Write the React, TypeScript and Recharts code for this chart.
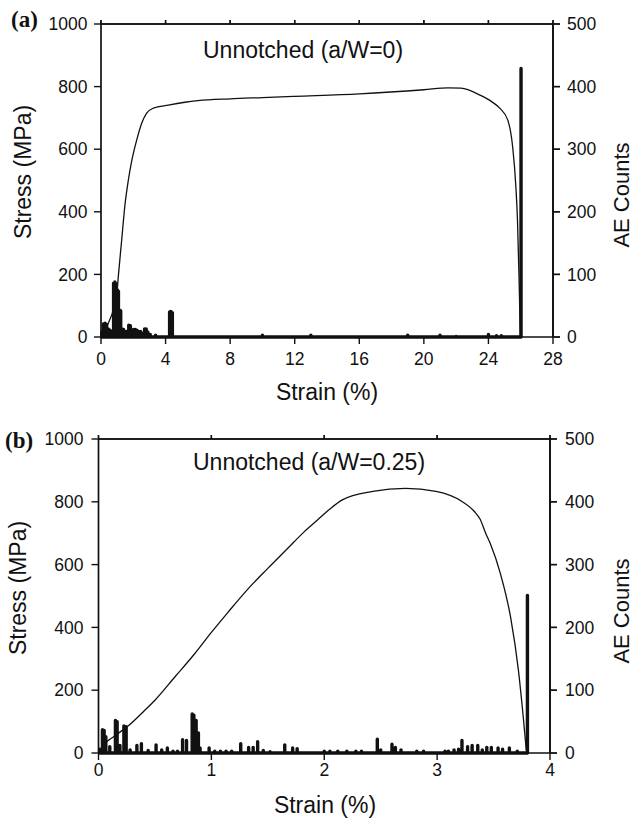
import React from 'react';
import { ComposedChart, Line, XAxis, YAxis, ReferenceLine } from 'recharts';

// ---------- shared ticks ----------
const stressTicks = [0, 200, 400, 600, 800, 1000];
const countTicks = [0, 100, 200, 300, 400, 500];

// ---------- panel (a): Unnotched (a/W=0) ----------
const strainTicksA = [0, 4, 8, 12, 16, 20, 24, 28];
const curveStrainA = [0, 0.15, 0.45, 0.76, 0.97, 1.07, 1.28, 1.49, 1.69, 1.9, 2.21, 2.52, 2.83, 3.24, 4.17, 5.2, 6, 8, 10, 12, 16, 20, 21.5, 22.3, 23.47, 24.2, 24.7, 25.2, 25.5, 25.7, 25.8, 25.9, 25.98];
const curveStressA = [0, 12, 44, 85, 130, 192, 309, 425, 500, 562, 629, 683, 715, 731, 741, 750, 755, 761, 765, 769, 777, 790, 796, 795, 773, 752, 731, 693, 608, 480, 373, 181, 0];
const aeStrainA = [0.05, 0.15, 0.25, 0.35, 0.45, 0.55, 0.65, 0.78, 0.86, 0.94, 1.02, 1.08, 1.16, 1.22, 1.3, 1.4, 1.5, 1.6, 1.72, 1.82, 1.92, 2.02, 2.12, 2.22, 2.32, 2.45, 2.55, 2.7, 2.8, 2.9, 3.05, 3.38, 4.25, 4.33, 4.42, 10.0, 13.0, 19.0, 21.0, 22.0, 24.0, 24.5, 24.8, 26.02];
const aeCountA = [8, 21, 22, 20, 13, 11, 9, 86, 88, 85, 75, 73, 43, 42, 13, 12, 9, 9, 19, 18, 11, 12, 12, 11, 9, 9, 6, 13, 13, 8, 4, 3, 40, 41, 39, 3, 3, 3, 3, 1, 4, 2, 2, 429];

// ---------- panel (b): Unnotched (a/W=0.25) ----------
const strainTicksB = [0, 1, 2, 3, 4];
const curveStrainB = [0, 0.03, 0.15, 0.27, 0.41, 0.5, 0.676, 0.852, 1.0, 1.147, 1.323, 1.5, 1.677, 1.824, 1.94, 2.05, 2.16, 2.43, 2.72, 2.99, 3.22, 3.33, 3.38, 3.43, 3.47, 3.56, 3.65, 3.72, 3.76, 3.79];
const curveStressB = [0, 19, 56, 88, 136, 168, 242, 316, 384, 448, 522, 588, 652, 705, 742, 777, 806, 833, 843, 833, 801, 769, 745, 700, 668, 572, 434, 264, 126, 9];
const aeStrainB = [0.01, 0.035, 0.05, 0.065, 0.1, 0.15, 0.165, 0.19, 0.225, 0.245, 0.28, 0.34, 0.38, 0.44, 0.51, 0.56, 0.61, 0.66, 0.7, 0.745, 0.78, 0.83, 0.845, 0.865, 0.885, 0.9, 0.98, 1.03, 1.08, 1.13, 1.18, 1.26, 1.33, 1.37, 1.41, 1.46, 1.52, 1.65, 1.72, 1.76, 2.0, 2.05, 2.12, 2.2, 2.28, 2.33, 2.47, 2.5, 2.6, 2.63, 2.68, 2.82, 2.88, 3.07, 3.1, 3.15, 3.19, 3.22, 3.27, 3.31, 3.36, 3.4, 3.44, 3.48, 3.54, 3.58, 3.64, 3.71, 3.8];
const aeCountB = [6, 37, 36, 26, 10, 52, 50, 12, 43, 42, 5, 12, 15, 4, 13, 5, 8, 3, 3, 21, 20, 62, 60, 52, 32, 8, 8, 3, 3, 3, 3, 15, 9, 9, 18, 4, 2, 13, 8, 7, 3, 3, 3, 3, 3, 3, 22, 5, 14, 9, 5, 3, 3, 3, 3, 5, 6, 20, 10, 12, 12, 5, 9, 9, 8, 6, 8, 3, 251];

const toCurve = (xs: number[], ys: number[]) => xs.map((x, i) => ({ x, y: ys[i] }));
const toSpikes = (xs: number[], cs: number[]) =>
  xs.flatMap((x, i) => [{ x, y: 0 }, { x, y: cs[i] }, { x, y: 0 }]);

const FONT = '"Liberation Sans", Arial, Helvetica, sans-serif';
const INK = '#111';
const TICK_FS = 17.5;
const tickStyle = { fill: INK, fontSize: TICK_FS, fontFamily: FONT };
const axisLine = { stroke: INK, strokeWidth: 1.7 };
const tickLine = { stroke: INK, strokeWidth: 1.4 };
const TICK_SIZE = 7;
const TOP_TICK = 4;

// right-axis tick: draws its own tick mark and label from the position Recharts gives
const makeRightTick = (margin: number) => (props: any) => {
  const { x, y, payload } = props;
  const x0 = x - margin - TICK_SIZE;
  return (
    <g>
      <line x1={x0} x2={x0 + TICK_SIZE} y1={y} y2={y} stroke={INK} strokeWidth={1.4} />
      <text x={x} y={y} dy="0.355em" textAnchor="start" fill={INK} fontSize={TICK_FS} fontFamily={FONT}>
        {payload.value}
      </text>
    </g>
  );
};

// top-axis tick: short outward mark only
const topTick = (props: any) => {
  const { x, y } = props;
  return <line x1={x} x2={x} y1={y} y2={y + TOP_TICK} stroke={INK} strokeWidth={1.4} />;
};

type PanelProps = {
  strainTicks: number[];
  maxStrain: number;
  curve: { x: number; y: number }[];
  spikes: { x: number; y: number }[];
  marginTop: number;
  xAxisHeight: number;
  leftWidth: number;
  rightWidth: number;
  xTickMargin: number;
  leftTickMargin: number;
  rightTickMargin: number;
};

function Panel(p: PanelProps) {
  return (
    <ComposedChart width={635} height={412} margin={{ top: p.marginTop - TOP_TICK, right: 0, bottom: 0, left: 0 }}>
      <XAxis
        xAxisId="bottom"
        type="number"
        dataKey="x"
        domain={[0, p.maxStrain]}
        ticks={p.strainTicks}
        interval={0}
        height={p.xAxisHeight}
        tickSize={TICK_SIZE}
        tickMargin={p.xTickMargin}
        axisLine={axisLine}
        tickLine={tickLine}
        tick={tickStyle}
      />
      <XAxis
        xAxisId="top"
        orientation="top"
        type="number"
        dataKey="x"
        domain={[0, p.maxStrain]}
        ticks={p.strainTicks}
        interval={0}
        height={TOP_TICK}
        tickSize={TOP_TICK}
        tickMargin={0}
        axisLine={axisLine}
        tickLine={tickLine}
        tick={topTick}
      />
      <YAxis
        yAxisId="left"
        type="number"
        domain={[0, 1000]}
        ticks={stressTicks}
        interval={0}
        width={p.leftWidth}
        tickSize={TICK_SIZE}
        tickMargin={p.leftTickMargin}
        axisLine={axisLine}
        tickLine={tickLine}
        tick={tickStyle}
      />
      <YAxis
        yAxisId="right"
        orientation="right"
        type="number"
        domain={[0, 500]}
        ticks={countTicks}
        interval={0}
        width={p.rightWidth}
        tickSize={TICK_SIZE}
        tickMargin={p.rightTickMargin}
        axisLine={axisLine}
        tickLine={tickLine}
        tick={makeRightTick(p.rightTickMargin)}
      />
      <ReferenceLine xAxisId="bottom" yAxisId="left" y={1000} stroke={INK} strokeWidth={1.7} ifOverflow="visible" />
      <ReferenceLine xAxisId="bottom" yAxisId="left" x={p.maxStrain} stroke={INK} strokeWidth={1.7} ifOverflow="visible" />
      <Line
        data={p.spikes}
        dataKey="y"
        xAxisId="bottom"
        yAxisId="right"
        type="linear"
        stroke={INK}
        strokeWidth={3.4}
        strokeLinejoin="round"
        dot={false}
        activeDot={false}
        isAnimationActive={false}
      />
      <Line
        data={p.curve}
        dataKey="y"
        xAxisId="top"
        yAxisId="left"
        type="monotone"
        stroke={INK}
        strokeWidth={1.3}
        dot={false}
        activeDot={false}
        isAnimationActive={false}
      />
    </ComposedChart>
  );
}

export default function App() {
  const titleStyle = { fontFamily: FONT, fontSize: 23, fill: INK };
  const rightTitleStyle = { fontFamily: FONT, fontSize: 22, fill: INK };
  const panelLabel = { fontFamily: '"Liberation Serif", "Times New Roman", serif', fontSize: 23, fontWeight: 700, fill: INK };
  return (
    <div style={{ position: 'absolute', left: 0, top: 0, width: 635, height: 824, background: '#fff' }}>
      <div style={{ position: 'absolute', left: 0, top: 0 }}>
        <Panel
          strainTicks={strainTicksA}
          maxStrain={28}
          curve={toCurve(curveStrainA, curveStressA)}
          spikes={toSpikes(aeStrainA, aeCountA)}
          marginTop={24}
          xAxisHeight={75}
          leftWidth={101}
          rightWidth={82}
          xTickMargin={8.5}
          leftTickMargin={6.5}
          rightTickMargin={7}
        />
      </div>
      <div style={{ position: 'absolute', left: 0, top: 412 }}>
        <Panel
          strainTicks={strainTicksB}
          maxStrain={4}
          curve={toCurve(curveStrainB, curveStressB)}
          spikes={toSpikes(aeStrainB, aeCountB)}
          marginTop={27}
          xAxisHeight={71}
          leftWidth={98.5}
          rightWidth={85}
          xTickMargin={4}
          leftTickMargin={8}
          rightTickMargin={8}
        />
      </div>
      <svg width={635} height={824} style={{ position: 'absolute', left: 0, top: 0, pointerEvents: 'none' }}>
        <text x={11} y={27} style={panelLabel}>(a)</text>
        <text x={203} y={58} style={titleStyle}>Unnotched (a/W=0)</text>
        <text x={327} y={400} textAnchor="middle" style={titleStyle}>Strain (%)</text>
        <text x={23} y={172} textAnchor="middle" dominantBaseline="central" transform="rotate(-90 23 172)" style={titleStyle}>Stress (MPa)</text>
        <text x={629} y={195} textAnchor="middle" transform="rotate(-90 629 195)" style={rightTitleStyle}>AE Counts</text>

        <text x={5} y={448} style={panelLabel}>(b)</text>
        <text x={193} y={470} style={titleStyle}>Unnotched (a/W=0.25)</text>
        <text x={325} y={813} textAnchor="middle" style={titleStyle}>Strain (%)</text>
        <text x={18} y={588} textAnchor="middle" dominantBaseline="central" transform="rotate(-90 18 588)" style={titleStyle}>Stress (MPa)</text>
        <text x={629} y={611} textAnchor="middle" transform="rotate(-90 629 611)" style={rightTitleStyle}>AE Counts</text>
      </svg>
    </div>
  );
}
